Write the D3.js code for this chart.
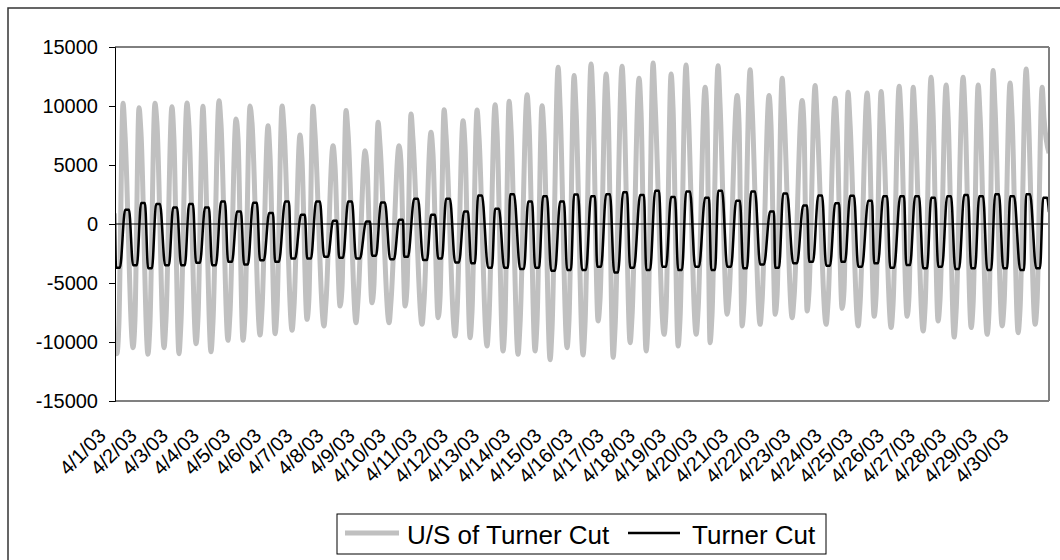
<!DOCTYPE html>
<html><head><meta charset="utf-8">
<script src="https://cdn.jsdelivr.net/npm/d3@7"></script>
<style>html,body{margin:0;padding:0;background:#fff;overflow:hidden;}svg{display:block;overflow:hidden;font-family:"Liberation Sans",Arial,sans-serif;}</style>
</head><body><svg id="c" width="1060" height="560"></svg>
<script>
// all times: hours after 4/1/03 00:00
// ---- U/S of Turner Cut (gray) ----
const grayPeakHours=[6.2,18.5,30.8,43.9,55.5,67.8,80.2,93.3,104.1,118.0,128.8,142.6,152.6,168.1,178.1,192.8,202.8,219.0,228.2,243.6,253.7,268.3,279.1,293.0,303.8,317.7,329.2,341.6,353.9,367.0,378.6,390.9,404.0,414.8,428.7,440.2,454.9,464.9,479.6,489.6,504.2,514.3,529.7,539.7,555.1,565.1,579.8,590.6,604.5,615.3,629.1,640.7,653.8,665.4,676.9,690.0,702.4,714.7];
const grayPeaks=[10230,9860,10230,9940,10250,9970,10450,8900,10000,8330,10000,7540,9970,6640,9620,6210,8620,6640,9320,7770,9690,8750,9660,10110,10400,10960,10030,13280,12580,13560,12710,13360,12350,13640,12710,13470,11580,13420,10880,13080,10880,12350,10460,11730,10650,11160,11100,11220,11670,11580,12430,11780,12430,11780,13000,11950,13130,11580];
const grayShoulderHours=[7.7,20.0,32.3,45.4,57.0,69.3,81.7,94.8,105.6,119.5,130.3,144.1,154.1,169.6,179.6,194.3,204.3,220.5,229.7,245.1,255.2,269.8,280.6,294.5,305.3,319.2,330.7,343.1,355.4,368.5,380.1,392.4,405.5,416.3,430.2,441.7,456.4,466.4,481.1,491.1,505.7,515.8,531.2,541.2,556.6,566.6,581.3,592.1,606.0,616.8,630.6,642.2,655.3,666.9,678.4,691.5,703.9,716.2];
const grayShoulders=[7650,7800,8600,7300,8300,6500,8500,7300,8600,5800,8100,5600,7800,4900,7800,4800,6700,5100,7200,6000,7500,6700,7400,7800,8000,8400,7700,10000,9700,10300,9800,10200,9500,10400,9800,10300,8900,10200,8400,10000,8400,9500,8100,9000,8200,8600,8500,8600,9000,8900,9500,9100,9500,9100,9900,9200,10000,8900];
const grayTroughHours=[1.5,13.9,25.4,37.8,49.3,62.5,74.0,87.1,98.7,111.8,123.4,136.5,148.0,161.1,173.5,185.8,198.1,211.3,223.6,236.7,249.1,262.2,273.7,286.8,299.1,310.7,323.8,335.4,348.5,360.8,372.4,384.0,397.1,409.4,423.3,434.1,448.0,458.7,471.9,483.4,497.3,508.9,522.0,533.5,548.2,560.5,572.9,585.2,598.3,610.6,623.0,634.5,646.9,660.0,672.3,683.9,696.2,709.3];
const grayTroughs=[-10990,-10480,-11040,-10480,-10990,-10140,-10820,-9860,-9860,-9410,-9300,-9010,-8080,-8640,-6950,-8360,-6670,-8360,-6950,-8500,-7940,-9490,-9630,-10340,-10760,-11040,-10760,-11500,-10480,-11100,-8220,-11300,-10060,-10760,-9350,-10340,-9350,-10060,-7650,-8640,-8500,-7650,-7940,-7370,-8500,-7150,-8640,-7820,-8780,-7820,-9070,-8220,-9580,-8780,-9350,-8640,-9210,-8500];
const grayStepHours=[3.0,15.4,26.9,39.3,50.8,64.0,75.5,88.6,100.2,113.3,124.9,138.0,149.5,162.6,175.0,187.3,199.6,212.8,225.1,238.2,250.6,263.7,275.2,288.3,300.6,312.2,325.3,336.9,350.0,362.3,373.9,385.5,398.6,410.9,424.8,435.6,449.5,460.2,473.4,484.9,498.8,510.4,523.5,535.0,549.7,562.0,574.4,586.7,599.8,612.1,624.5,636.0,648.4,661.5,673.8,685.4,697.7,710.8];
const graySteps=[-8500,-8100,-8600,-8100,-8500,-7900,-8400,-7700,-7700,-7300,-7200,-7000,-6300,-6700,-5400,-6500,-5200,-6500,-5400,-6600,-6200,-7400,-7500,-8000,-8400,-8600,-8400,-8900,-8100,-8600,-6400,-8800,-7800,-8400,-7300,-8000,-7300,-7800,-6000,-6700,-6600,-6000,-6200,-5700,-6600,-5600,-6700,-6100,-6800,-6100,-7000,-6400,-7400,-6800,-7300,-6700,-7200,-6600];
const grayEndHours=[0,720];
const grayEnds=[-9500,6000];
// ---- Turner Cut (black): flat-topped high and low stands ----
const blackHighStartHours=[7.8,20.1,31.7,44.8,57.1,69.4,81.8,94.1,106.4,118.8,131.1,143.4,155.0,168.1,179.7,193.6,205.1,219.0,230.6,243.7,255.2,269.1,279.9,293.0,304.6,318.5,330.0,343.1,353.9,367.0,378.6,391.7,404.8,416.4,428.7,440.3,454.9,465.0,478.8,490.4,505.0,515.1,530.5,542.1,555.2,566.7,580.6,592.2,605.3,616.8,629.2,641.5,654.6,666.2,678.5,690.1,702.4,715.5];
const blackHighEndHours=[10.8,23.1,34.7,47.8,60.1,72.4,84.8,97.1,109.4,121.8,134.1,146.4,158.0,171.1,182.7,196.6,208.1,222.0,233.6,246.7,258.2,272.1,282.9,296.0,307.6,321.5,333.0,346.1,356.9,370.0,381.6,394.7,407.8,419.4,431.7,443.3,457.9,468.0,481.8,493.4,508.0,518.1,533.5,545.1,558.2,569.7,583.6,595.2,608.3,619.8,632.2,644.5,657.6,669.2,681.5,693.1,705.4,718.5];
const blackHighs=[1200,1780,1700,1400,1700,1400,1900,1060,1800,930,1900,780,1900,270,1900,210,1820,360,2140,780,2140,1060,2420,1290,2530,1900,2360,1900,2490,2360,2530,2700,2450,2810,2280,2760,2230,2810,1970,2760,1060,2590,1570,2420,1760,2400,1970,2360,2360,2360,2230,2360,2450,2360,2530,2360,2530,2230];
const blackLowStartHours=[0.8,13.9,25.5,38.6,50.9,62.5,74.8,87.2,99.5,111.8,123.4,135.8,148.1,161.2,172.8,185.8,198.2,212.1,222.9,237.5,249.1,262.2,274.5,287.6,300.0,312.3,323.9,336.2,348.5,360.1,371.7,384.8,397.1,409.5,421.8,434.1,447.2,459.6,471.9,484.2,497.3,508.9,522.8,535.1,548.2,559.8,572.9,585.2,597.6,609.9,623.0,634.6,647.7,660.0,672.4,684.7,697.8,710.1];
const blackLowEndHours=[3.8,16.9,28.5,41.6,53.9,65.5,77.8,90.2,102.5,114.8,126.4,138.8,151.1,164.2,175.8,188.8,201.2,215.1,225.9,240.5,252.1,265.2,277.5,290.6,303.0,315.3,326.9,339.2,351.5,363.1,374.7,387.8,400.1,412.5,424.8,437.1,450.2,462.6,474.9,487.2,500.3,511.9,525.8,538.1,551.2,562.8,575.9,588.2,600.6,612.9,626.0,637.6,650.7,663.0,675.4,687.7,700.8,713.1];
const blackLows=[-3710,-3490,-3760,-3490,-3490,-3290,-3490,-3200,-3440,-3070,-3200,-2930,-2930,-2780,-2850,-2930,-2700,-2990,-2780,-3060,-2920,-3260,-3330,-3710,-3710,-3820,-3710,-3970,-3900,-3900,-3620,-4110,-3710,-3900,-3620,-3900,-3620,-3900,-3620,-3760,-3430,-3710,-3330,-3200,-3540,-3200,-3620,-3330,-3710,-3480,-3760,-3620,-3820,-3760,-3900,-3760,-3900,-3760];
const blackEndHours=[0,720];
const blackEnds=[900,1000];
const yTicks=[-15000,-10000,-5000,0,5000,10000,15000];
const seriesNames=["U/S of Turner Cut","Turner Cut"];

const start=new Date(2003,3,1), end=new Date(2003,4,1);
const toDate=h=>new Date(start.getTime()+h*3600000);
function build(...pairs){const a=[];pairs.forEach(([hs,vs])=>hs.forEach((h,i)=>a.push({t:toDate(h),v:vs[i]})));return a.sort((p,q)=>p.t-q.t);}
const grayData=build([grayPeakHours,grayPeaks],[grayShoulderHours,grayShoulders],[grayTroughHours,grayTroughs],[grayStepHours,graySteps],[grayEndHours,grayEnds]);
const blackData=build([blackHighStartHours,blackHighs],[blackHighEndHours,blackHighs],[blackLowStartHours,blackLows],[blackLowEndHours,blackLows],[blackEndHours,blackEnds]);

const svg=d3.select("#c");
const L=115,R=1049,T=47,B=401;
const x=d3.scaleTime().domain([start,end]).range([L,R]);
const y=d3.scaleLinear().domain([-15000,15000]).range([B,T]);

svg.append("rect").attr("x",8).attr("y",8).attr("width",1070).attr("height",570).attr("fill","none").attr("stroke","#333").attr("stroke-width",1.5);

svg.append("defs").append("clipPath").attr("id","pc").append("rect").attr("x",L).attr("y",T-5).attr("width",R-L).attr("height",B-T+10);
const line=d3.line().x(d=>x(d.t)).y(d=>y(d.v)).curve(d3.curveMonotoneX);
const g=svg.append("g").attr("clip-path","url(#pc)");
g.append("path").datum(grayData).attr("d",line).attr("fill","none").attr("stroke","#c0c0c0").attr("stroke-width",5).attr("stroke-linejoin","round");
svg.append("line").attr("x1",L).attr("x2",R).attr("y1",y(0)).attr("y2",y(0)).attr("stroke","#000").attr("stroke-width",1);
g.append("path").datum(blackData).attr("d",line).attr("fill","none").attr("stroke","#000").attr("stroke-width",2.5).attr("stroke-linejoin","round");

svg.append("line").attr("x1",L).attr("x2",R).attr("y1",T).attr("y2",T).attr("stroke","#000").attr("stroke-width",1);
svg.append("line").attr("x1",R).attr("x2",R).attr("y1",T).attr("y2",B).attr("stroke","#808080").attr("stroke-width",2);
svg.append("line").attr("x1",L).attr("x2",R).attr("y1",B).attr("y2",B).attr("stroke","#808080").attr("stroke-width",2);

const ya=svg.append("g").attr("transform",`translate(${L},0)`).call(d3.axisLeft(y).tickValues(yTicks).tickSize(6).tickPadding(11).tickFormat(d=>String(d)));
ya.select(".domain").attr("stroke","#000");
ya.selectAll("text").attr("font-size",20).attr("font-family","Liberation Sans, Arial, sans-serif").attr("fill","#000");

const days=d3.timeDay.range(start,end);
const fmt=d3.timeFormat("%-m/%-d/%y");
svg.append("g").selectAll("text").data(days).join("text")
  .attr("transform",d=>`translate(${x(d)-8},437) rotate(-45)`)
  .attr("text-anchor","end").attr("font-size",20).text(d=>fmt(d));

const lg=svg.append("g");
lg.append("rect").attr("x",337).attr("y",514).attr("width",489).attr("height",40).attr("fill","#fff").attr("stroke","#000").attr("stroke-width",1);
lg.append("line").attr("x1",345).attr("x2",399).attr("y1",533).attr("y2",533).attr("stroke","#c0c0c0").attr("stroke-width",5);
lg.append("text").attr("x",407).attr("y",544).attr("font-size",26).text(seriesNames[0]);
lg.append("line").attr("x1",628).attr("x2",680).attr("y1",533).attr("y2",533).attr("stroke","#000").attr("stroke-width",2.5);
lg.append("text").attr("x",692).attr("y",544).attr("font-size",26).text(seriesNames[1]);
</script></body></html>
